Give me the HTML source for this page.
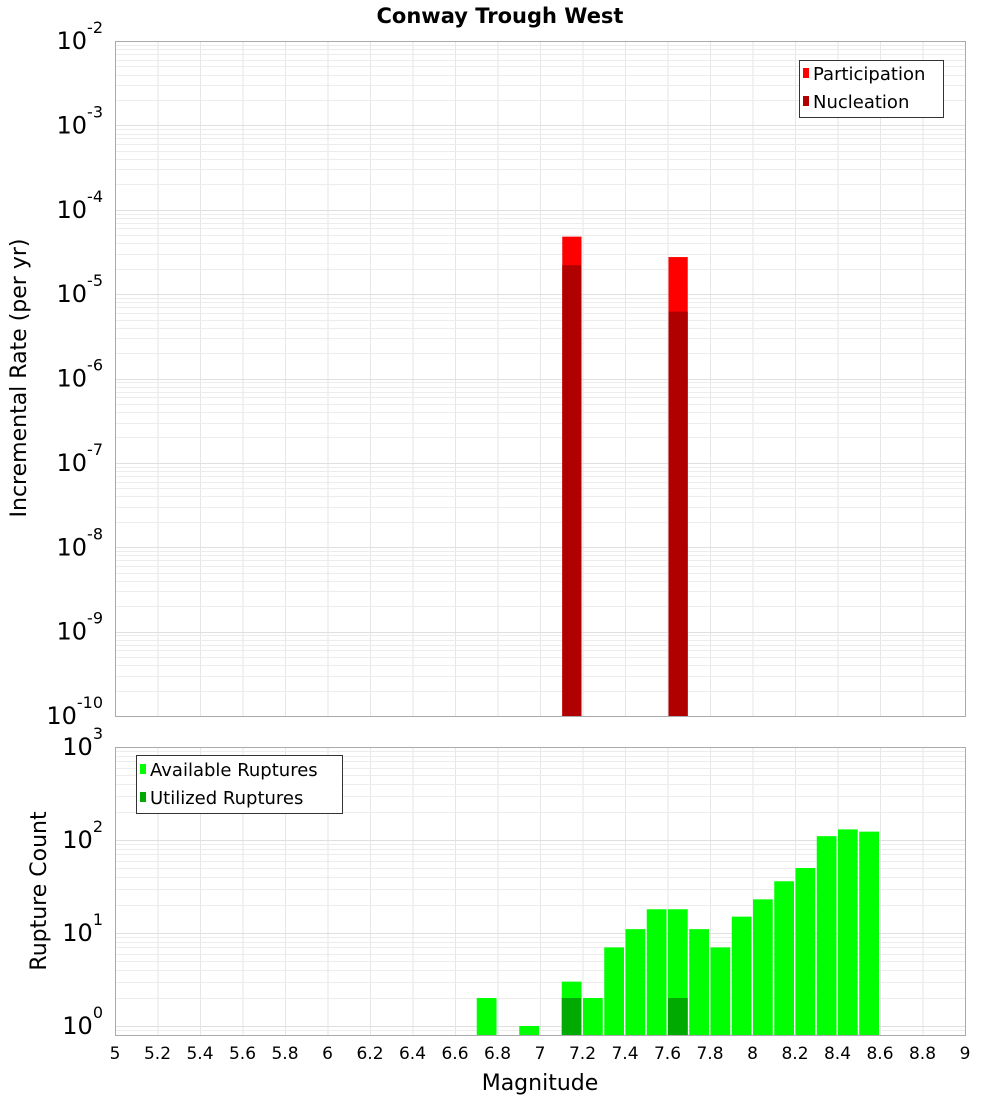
<!DOCTYPE html>
<html><head><meta charset="utf-8"><style>
html,body{margin:0;padding:0;background:#fff;}
svg{display:block;font-family:"Liberation Sans","DejaVu Sans",sans-serif;}
</style></head><body>
<svg id="chart" width="1000" height="1100" viewBox="0 0 1000 1100" xmlns="http://www.w3.org/2000/svg">
<text x="500" y="23" text-anchor="middle" font-size="21" font-weight="bold" font-family="DejaVu Sans, sans-serif">Conway Trough West</text>
<g id="top-grid"></g>
<g id="top-bars"></g>
<rect x="115.5" y="41.5" width="850" height="675" fill="none" stroke="#aaa"/>
<g id="top-yticks"></g>
<text transform="translate(26,378) rotate(-90)" text-anchor="middle" font-size="22" font-family="DejaVu Sans, sans-serif">Incremental Rate (per yr)</text>
<g>
<rect x="799.5" y="60.5" width="144" height="57" fill="#fff" stroke="#333"/>
<rect x="803" y="68" width="6" height="10" fill="#ff0000"/>
<text x="813" y="80" font-size="18" font-family="DejaVu Sans, sans-serif">Participation</text>
<rect x="803" y="96" width="6" height="10" fill="#b00000"/>
<text x="813" y="108" font-size="18" font-family="DejaVu Sans, sans-serif">Nucleation</text>
</g>
<g id="bot-grid"></g>
<g id="bot-bars"></g>
<rect x="115.5" y="747.5" width="850" height="288" fill="none" stroke="#aaa"/>
<g id="bot-yticks"></g>
<g id="xticks"></g>
<text transform="translate(46,891) rotate(-90)" text-anchor="middle" font-size="22" font-family="DejaVu Sans, sans-serif">Rupture Count</text>
<text x="540" y="1090" text-anchor="middle" font-size="22" font-family="DejaVu Sans, sans-serif">Magnitude</text>
<g>
<rect x="136.5" y="755.5" width="206" height="58" fill="#fff" stroke="#333"/>
<rect x="140" y="764" width="6" height="10" fill="#00ff00"/>
<text x="150" y="776" font-size="18" font-family="DejaVu Sans, sans-serif">Available Ruptures</text>
<rect x="140" y="792" width="6" height="10" fill="#00aa00"/>
<text x="150" y="804" font-size="18" font-family="DejaVu Sans, sans-serif">Utilized Ruptures</text>
</g>
</svg>
<script>
const rateMags = [7.15, 7.65];
const participationRates = [4.8e-5, 2.75e-5];
const nucleationRates = [2.2e-5, 6.2e-6];
const countMags = [6.75, 6.95, 7.15, 7.25, 7.35, 7.45, 7.55, 7.65, 7.75, 7.85, 7.95, 8.05, 8.15, 8.25, 8.35, 8.45, 8.55];
const availableCounts = [2, 1, 3, 2, 7, 11, 18, 18, 11, 7, 15, 23, 36, 50, 110, 130, 123];
const utilizedMags = [7.15, 7.65];
const utilizedCounts = [2, 2];
const xTickLabels = ["5","5.2","5.4","5.6","5.8","6","6.2","6.4","6.6","6.8","7","7.2","7.4","7.6","7.8","8","8.2","8.4","8.6","8.8","9"];
const topYExps = [-10,-9,-8,-7,-6,-5,-4,-3,-2];
const botYExps = [0,1,2,3];

const NS = "http://www.w3.org/2000/svg";
const X0=115, X1=965, XMIN=5, XMAX=9;
const xs = m => X0 + (m-XMIN)/(XMAX-XMIN)*(X1-X0);
const TY0=41, TY1=716;
const ty = v => TY0 + (-2 - Math.log10(v))/8*(TY1-TY0);
const BY0=747, DEC=93;
const by = v => BY0 + (3 - Math.log10(v))*DEC;
const BYB=1035;
function mk(tag, attrs, parent){const e=document.createElementNS(NS,tag);for(const k in attrs)e.setAttribute(k,attrs[k]);parent.appendChild(e);return e;}

const tg=document.getElementById('top-grid'), bg=document.getElementById('bot-grid');
// vertical grid
xTickLabels.forEach(l=>{const x=xs(parseFloat(l))+0.5;
  const a=mk('line',{x1:x,x2:x,y1:TY0,y2:TY1,stroke:'#e6e6e6'},tg);
  
  
  const b=mk('line',{x1:x,x2:x,y1:BY0,y2:BYB,stroke:'#e6e6e6'},bg);
  
  
});
// horizontal log grid
for(let e=-10;e<-2;e++){for(let k=1;k<10;k++){const y=Math.round(ty(k*Math.pow(10,e)))+0.5;
  const l=mk('line',{x1:X0,x2:X1,y1:y,y2:y,stroke:k==1?'#e0e0e0':'#ececec'},tg);
  
  }}
for(let e=-1;e<3;e++){for(let k=1;k<10;k++){const v=k*Math.pow(10,e);const y=Math.round(by(v))+0.5;if(y<BY0||y>BYB)continue;
  const l=mk('line',{x1:X0,x2:X1,y1:y,y2:y,stroke:k==1?'#e0e0e0':'#ececec'},bg);
  
  }}

const tb=document.getElementById('top-bars');
rateMags.forEach((m,i)=>{const xl=xs(m-0.05)+1, w=xs(m+0.05)-xs(m-0.05)-2;
  const p=mk('rect',{x:xl,y:ty(participationRates[i]),width:w,height:TY1-ty(participationRates[i]),fill:'#ff0000'},tb);
  
  
  const n=mk('rect',{x:xl,y:ty(nucleationRates[i]),width:w,height:TY1-ty(nucleationRates[i]),fill:'#b00000'},tb);
  
  
});
const bb=document.getElementById('bot-bars');
countMags.forEach((m,i)=>{const xl=xs(m-0.05)+0.5, w=xs(m+0.05)-xs(m-0.05)-1.5;
  const r=mk('rect',{x:xl,y:by(availableCounts[i]),width:w,height:BYB-by(availableCounts[i]),fill:'#00ff00'},bb);
  
  
});
utilizedMags.forEach((m,i)=>{const xl=xs(m-0.05)+0.5, w=xs(m+0.05)-xs(m-0.05)-1.5;
  const r=mk('rect',{x:xl,y:by(utilizedCounts[i]),width:w,height:BYB-by(utilizedCounts[i]),fill:'#00aa00'},bb);
  
  
});

function ylabel(parent,y,exp,name){const t=mk('text',{x:103,y:y+8,'text-anchor':'end','font-size':24,'font-family':'DejaVu Sans, sans-serif'},parent);
  
  
  const a=mk('tspan',{},t);a.textContent='10';
  const s=mk('tspan',{dy:-16,'font-size':16},t);s.textContent=String(exp);}
const tyk=document.getElementById('top-yticks');
topYExps.forEach(e=>ylabel(tyk,ty(Math.pow(10,e)),e,'top-y-tick-label'));
const byk=document.getElementById('bot-yticks');
botYExps.forEach(e=>ylabel(byk,by(Math.pow(10,e)),e,'bottom-y-tick-label'));
const xk=document.getElementById('xticks');
xTickLabels.forEach(l=>{const t=mk('text',{x:xs(parseFloat(l)),y:1059,'text-anchor':'middle','font-size':17,'font-family':'DejaVu Sans, sans-serif'},xk);
  
  
  t.textContent=l;});
</script>
</body></html>
